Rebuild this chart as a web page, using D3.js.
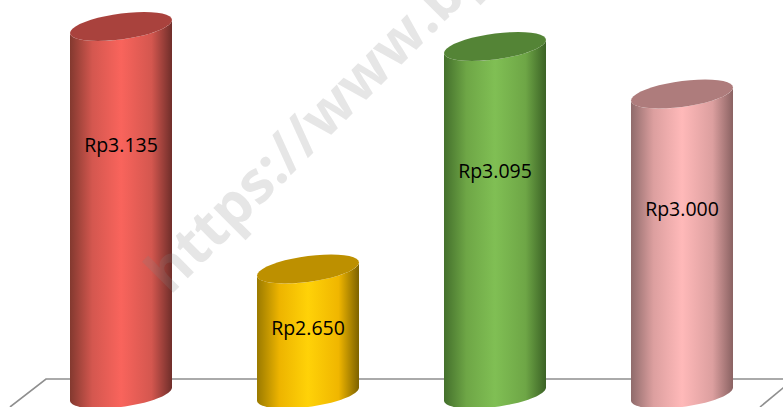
<!DOCTYPE html>
<html>
<head>
<meta charset="utf-8">
<script src="https://cdn.jsdelivr.net/npm/d3@7"></script>
<style>
    html, body { margin: 0; padding: 0; background: #fff; }
    svg { display: block; }
</style>
</head>
<body>
<svg id="chart" width="783" height="407"></svg>
<script>
const categories = ["a", "b", "c", "d"];
const values = [3135, 2650, 3095, 3000];
const labels = ["Rp3.135", "Rp2.650", "Rp3.095", "Rp3.000"];
const sideColors = [
    ["#83392f", "#d4574f", "#f9645c", "#d4574f", "#6f2e2a"],
    ["#9a7a00", "#edb400", "#ffd208", "#f0b600", "#7d6200"],
    ["#44702c", "#6ea646", "#80bf54", "#6ea646", "#3b6225"],
    ["#8f6b6b", "#dc9f9f", "#ffb9b9", "#dc9f9f", "#8a6262"]
];
const topColors = ["#a9423d", "#bd9000", "#548436", "#ae7c7c"];
const watermark = "https://www.bps.go.id";

let svg = d3.select("#chart"),
    width = +svg.attr("width"),
    height = +svg.attr("height");

// half a pixel per rupiah, the floor sits at 2400
let x = d3.scaleBand().domain(categories).range([70, 733]).paddingInner(85 / 187).paddingOuter(0);
let y = d3.scaleLinear().domain([2400, 3200]).range([394, -6]);

let capRy = 13,
    capTilt = 6.5;

// labels were placed by hand in the original, they do not follow the bar middle
let labelCenterY = [145, 328, 171, 209];

let defs = svg.append("defs");
categories.forEach((c, i) => {
    let grad = defs.append("linearGradient").attr("id", "side" + i);
    grad.selectAll("stop")
        .data(sideColors[i])
        .join("stop")
        .attr("offset", (d, j) => [0, 0.22, 0.5, 0.8, 1][j])
        .attr("stop-color", d => d);
});

// floor lines
let floorY = 379;
let floor = svg.append("g")
    .attr("fill", "none")
    .attr("stroke", "#8f8f8f")
    .attr("stroke-width", 1.6);
floor.append("path").attr("d", d3.line()([[10, 407], [46, floorY], [width, floorY]]));
floor.append("path").attr("d", d3.line()([[760, 407], [794, floorY]]));

function ellipsePoint(cx, cy, rx, t) {
    return [cx + rx * Math.cos(t), cy + capRy * Math.sin(t) - capTilt * Math.cos(t)];
}

function arcPoints(cx, cy, rx, from, to) {
    return d3.range(0, 41).map(k => ellipsePoint(cx, cy, rx, from + (to - from) * k / 40));
}

let line = d3.line();

let bars = svg.append("g")
    .selectAll("g")
    .data(values)
    .join("g");

bars.append("path")
    .attr("fill", (d, i) => "url(#side" + i + ")")
    .attr("d", (d, i) => {
        let rx = x.bandwidth() / 2,
            cx = x(categories[i]) + rx;
        // left edge down, front of the bottom cap, right edge up, front of the top cap
        let pts = [ellipsePoint(cx, y(d), rx, Math.PI)]
            .concat(arcPoints(cx, y(2400), rx, Math.PI, 0))
            .concat(arcPoints(cx, y(d), rx, 0, Math.PI));
        return line(pts) + "Z";
    });

bars.append("path")
    .attr("fill", (d, i) => topColors[i])
    .attr("d", (d, i) => {
        let rx = x.bandwidth() / 2,
            cx = x(categories[i]) + rx;
        return line(arcPoints(cx, y(d), rx, 0, 2 * Math.PI)) + "Z";
    });

bars.append("text")
    .attr("x", (d, i) => x(categories[i]) + x.bandwidth() / 2)
    .attr("y", (d, i) => labelCenterY[i])
    .attr("dy", "0.36em")
    .attr("text-anchor", "middle")
    .attr("font-family", "'Open Sans', sans-serif")
    .attr("font-size", 19.5)
    .attr("fill", "#000")
    .text((d, i) => labels[i]);

svg.append("text")
    .attr("transform", "translate(170,296) rotate(-45)")
    .attr("font-family", "'Open Sans', sans-serif")
    .attr("font-weight", "bold")
    .attr("font-size", 58)
    .attr("fill", "#808080")
    .attr("fill-opacity", 0.2)
    .text(watermark);
</script>
</body>
</html>
